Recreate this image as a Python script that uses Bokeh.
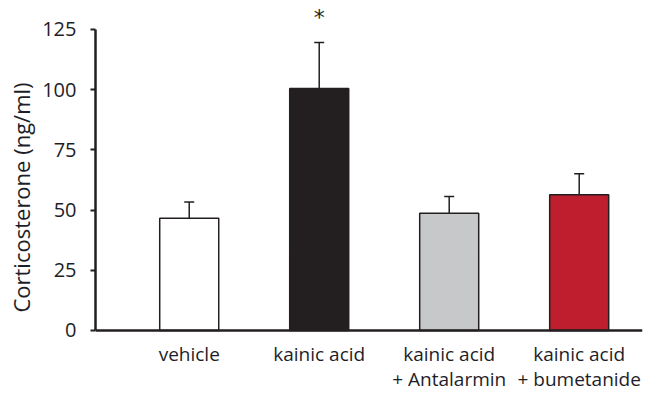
from bokeh.plotting import figure
from bokeh.models import (Range1d, FixedTicker, ColumnDataSource, Whisker,
                          TeeHead, Span)
from bokeh.core.properties import value
from bokeh.embed import file_html
from bokeh.resources import INLINE

# Plasma corticosterone per treatment group (mean and SEM, ng/ml)
groups = ["vehicle", "kainic acid", "kainic acid\n+ Antalarmin", "kainic acid\n+ bumetanide"]
means = [46.6, 100.5, 48.7, 56.3]
sems = [6.7, 19.1, 6.9, 8.8]
fills = ["#ffffff", "#231f20", "#c7c8ca", "#be1e2d"]
significant = ["", "*", "", ""]
y_ticks = [0, 25, 50, 75, 100, 125]

FONT = "Open Sans"
INK = "#231f20"
TEXT = "#1e1e28"

xs = list(range(len(groups)))
src = ColumnDataSource(dict(
    x=xs,
    top=means,
    upper=[m + s for m, s in zip(means, sems)],
    fill=fills,
))

# the frame reaches below zero so the group names sit inside it
p = figure(
    width=647, height=394,
    x_range=Range1d(-0.721, 3.487),
    y_range=Range1d(-26.6, 137.0),
    x_axis_location=None,
    output_backend="svg", toolbar_location=None,
    min_border_left=95, min_border_right=5,
    min_border_top=0, min_border_bottom=0,
)
p.outline_line_color = None
p.grid.visible = False
p.background_fill_color = "#ffffff"
p.border_fill_color = "#ffffff"

p.vbar(x="x", top="top", bottom=0, width=0.454, source=src,
       fill_color="fill", line_color=INK, line_width=1.5)

# baseline at zero across the full width
p.add_layout(Span(location=0, dimension="width", line_color=INK, line_width=2.5))

# upper error bars: stem from bar top, tee cap at mean + SEM
p.add_layout(Whisker(base="x", upper="upper", lower="top", source=src,
                     line_color=INK, line_width=1.5,
                     upper_head=TeeHead(size=10, line_color=INK, line_width=1.5),
                     lower_head=None))

# significance marker above the error bar
star_src = ColumnDataSource(dict(
    x=[x for x, s in zip(xs, significant) if s],
    y=[m + s + 10.5 for m, s, g in zip(means, sems, significant) if g],
    t=[s for s in significant if s],
))
p.text(x="x", y="y", text="t", source=star_src, text_font=value("DejaVu Sans"),
       text_font_size="22px", text_align="center", text_baseline="middle",
       text_color=INK)

# y axis
ya = p.yaxis[0]
ya.ticker = FixedTicker(ticks=y_ticks)
ya.bounds = (0, 125)
ya.axis_line_width = 2.5
ya.axis_line_color = INK
ya.major_tick_line_color = INK
ya.major_tick_line_width = 2
ya.major_tick_in = 0
ya.major_tick_out = 5
ya.minor_tick_line_color = None
ya.major_label_standoff = 14
ya.major_label_text_font = FONT
ya.major_label_text_font_size = "20px"
ya.major_label_text_color = TEXT
ya.axis_label = "Corticosterone (ng/ml)"
ya.axis_label_text_font = FONT
ya.axis_label_text_font_size = "22px"
ya.axis_label_text_font_style = "normal"
ya.axis_label_text_color = TEXT
ya.axis_label_standoff = 3

# group names in two rows beneath the baseline
line1 = [g.split("\n")[0] for g in groups]
line2 = [g.split("\n")[1] if "\n" in g else "" for g in groups]
name_src = ColumnDataSource(dict(
    x=xs, l1=line1, l2=line2,
    y1=[-9.6] * len(xs), y2=[-20.0] * len(xs),
))
for col_y, col_t in (("y1", "l1"), ("y2", "l2")):
    p.text(x="x", y=col_y, text=col_t, source=name_src,
           text_font=value(FONT), text_font_size="19px",
           text_color=TEXT, text_align="center", text_baseline="middle")

open("out.html", "w").write(file_html(p, INLINE))
